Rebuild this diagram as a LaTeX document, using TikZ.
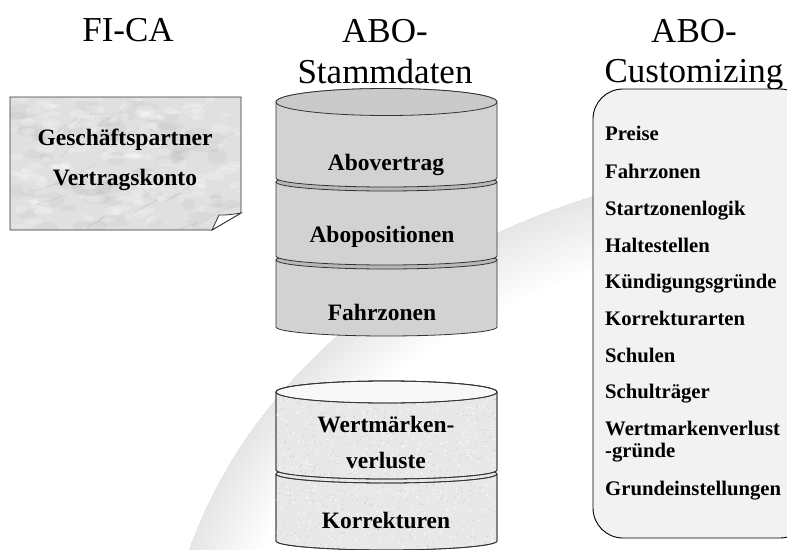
\documentclass[tikz,border=0pt]{standalone}
\usepackage{fontspec}
\setmainfont{Liberation Serif}
\usetikzlibrary{decorations.pathmorphing}
\definecolor{cylgray}{HTML}{D2D2D2}
\definecolor{cyltop}{HTML}{CACACA}
\definecolor{cylrim}{HTML}{B8B8B8}
\definecolor{stone}{HTML}{E8E8E8}
\definecolor{stonetop}{HTML}{F8F8F8}
\definecolor{marble}{HTML}{E0E0E0}
\definecolor{custfill}{HTML}{F2F2F2}
\definecolor{edge}{HTML}{333333}
\tikzset{
  title/.style={font=\fontsize{35}{35}\selectfont, anchor=base, inner sep=0pt},
  cyltext/.style={font=\fontsize{23.5}{23.5}\selectfont\bfseries, anchor=base, inner sep=0pt},
  boxtext/.style={font=\fontsize{23.5}{23.5}\selectfont\bfseries, anchor=base, inner sep=0pt},
  itemtext/.style={font=\fontsize{20.7}{20.7}\selectfont\bfseries, anchor=base west, inner sep=0pt},
  cyl/.style={draw=edge, line width=0.8pt},
  swooshlayer/.style={fill=black, fill opacity=0.0045},
}
\newcommand{\mysec}[6]{%
  \filldraw[cyl, fill=#5] (276,-#1) -- (276,-#2) arc[start angle=180,end angle=360,x radius=110.5,y radius=#4] -- (497,-#1) arc[start angle=0,end angle=180,x radius=110.5,y radius=#3] -- cycle;
  \filldraw[cyl, fill=#6] (386.5,-#1) ellipse[x radius=110.5,y radius=#3];
}
\begin{document}
\begin{tikzpicture}[x=1pt,y=1pt]
\useasboundingbox (0,0) rectangle (787,-549);
\clip (0,0) rectangle (787,-549);
\fill[white] (0,0) rectangle (787,-549);
% background swoosh: many thin layers fading away from the sharp edge
\foreach \w in {3,6,...,75} {
  \fill[swooshlayer] (187,-555) .. controls (240,-400) and (380,-262) .. (593,-196)
     .. controls (680,-170) and (740,-158) .. (800,-150)
     -- (800,-150-\w) .. controls (740,-158-\w) and (680,-170-0.95*\w) .. (593+0.25*\w,-196-0.95*\w)
     .. controls (380+0.6*\w,-262-0.8*\w) and (240+0.9*\w,-400-0.4*\w) .. (187+\w,-555) -- cycle;
}

% titles
\node[title] (t1) at (128,-41) {FI-CA};
\node[title] (t2) at (385,-42) {ABO-};
\node[title] (t3) at (385,-83) {Stammdaten};
\node[title] (t4) at (694,-42) {ABO-};
\node[title] (t5) at (694,-82) {Customizing};

% FI-CA marble note
\begin{scope}
  \clip (10,-97) -- (241,-97) -- (241,-213) -- (212,-230) -- (10,-230) -- cycle;
  \fill[marble] (0,-90) rectangle (250,-240);
  \pgfmathsetseed{7}
  \foreach \i in {1,...,60} {
    \fill[gray, opacity=0.07] (10+231*rnd,-97-133*rnd) ellipse[x radius=6+12*rnd, y radius=3+5*rnd];
  }
  \foreach \i in {1,...,160} {
    \fill[white, opacity=0.22] (10+231*rnd,-97-133*rnd) ellipse[x radius=3+8*rnd, y radius=1.5+3*rnd];
  }
  \foreach \i in {1,...,16} {
    \draw[gray!70, opacity=0.25, line width=0.4pt+0.8pt*rnd, line cap=round,
      decorate, decoration={random steps, segment length=2.5pt, amplitude=0.8pt}]
      (10+231*rnd,-97-133*rnd) -- ++(12+22*rnd,7+10*rnd);
  }
\end{scope}
\draw[edge, line width=0.9pt] (10,-97) -- (241,-97) -- (241,-213) -- (212,-230) -- (10,-230) -- cycle;
\filldraw[edge, fill=white, line width=0.8pt] (212,-230) -- (219,-215) .. controls (228,-215) .. (241,-213) -- cycle;
\node[boxtext] (gp) at (125,-145) {Geschäftspartner};
\node[boxtext] (vk) at (125,-185) {Vertragskonto};

% upper cylinder (Stammdaten)
\mysec{260}{327}{9}{9}{cylgray}{cylrim}
\mysec{182}{256}{9}{9}{cylgray}{cylrim}
\mysec{102}{178}{13.5}{9}{cylgray}{cyltop}
\node[cyltext] (c1) at (386,-170) {Abovertrag};
\node[cyltext] (c2) at (382,-242) {Abopositionen};
\node[cyltext] (c3) at (382,-320) {Fahrzonen};

% lower cylinder (granite)
\mysec{474}{541}{9}{9}{stone}{stone}
\mysec{392}{470}{11}{9}{stone}{stonetop}
\begin{scope}
  \clip (276,-392) arc[start angle=180,end angle=360,x radius=110.5,y radius=11] -- (497,-541) arc[start angle=0,end angle=-180,x radius=110.5,y radius=9] -- cycle;
  \pgfmathsetseed{11}
  \foreach \i in {1,...,650} {
    \fill[gray!40] (276+221*rnd,-392-160*rnd) circle (0.6);
  }
  \foreach \i in {1,...,400} {
    \fill[white] (276+221*rnd,-392-160*rnd) circle (0.8);
  }
\end{scope}
\draw[cyl] (386.5,-392) ellipse[x radius=110.5,y radius=11];
\draw[cyl] (276,-392) -- (276,-470) arc[start angle=180,end angle=360,x radius=110.5,y radius=9] -- (497,-392);
\draw[cyl] (276,-474) arc[start angle=180,end angle=360,x radius=110.5,y radius=9];
\draw[cyl] (276,-474) -- (276,-541) arc[start angle=180,end angle=360,x radius=110.5,y radius=9] -- (497,-474);
\node[cyltext] (w1) at (386,-432) {Wertmärken-};
\node[cyltext] (w2) at (386,-468) {verluste};
\node[cyltext] (w3) at (386,-528) {Korrekturen};

% customizing box
\filldraw[draw=black, line width=0.9pt, fill=custfill, rounded corners=30pt] (593,-89) rectangle (810,-538);
\node[itemtext] (i1) at (605,-140) {Preise};
\node[itemtext] (i2) at (605,-178) {Fahrzonen};
\node[itemtext] (i3) at (605,-215) {Startzonenlogik};
\node[itemtext] (i4) at (605,-252) {Haltestellen};
\node[itemtext] (i5) at (605,-288) {Kündigungsgründe};
\node[itemtext] (i6) at (605,-325) {Korrekturarten};
\node[itemtext] (i7) at (605,-362) {Schulen};
\node[itemtext] (i8) at (605,-398) {Schulträger};
\node[itemtext] (i9) at (605,-435) {Wertmarkenverlust};
\node[itemtext] (i10) at (605,-457) {-gründe};
\node[itemtext] (i11) at (605,-495) {Grundeinstellungen};
\end{tikzpicture}
\end{document}
